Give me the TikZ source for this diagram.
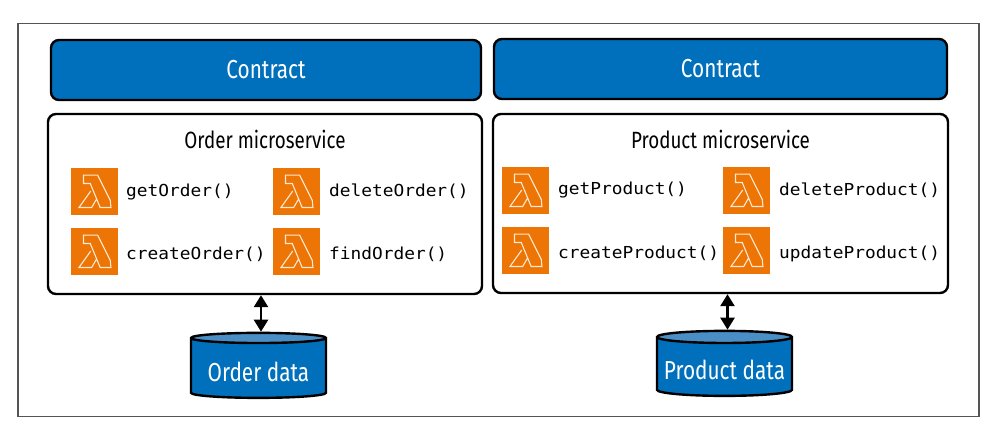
\documentclass[tikz,border=0pt]{standalone}
\usepackage{fontspec}
\usepackage{tikz}
\usetikzlibrary{arrows.meta,positioning,shapes.geometric}
\setsansfont[FakeStretch=0.8]{Fira Sans}
\setmonofont[FakeStretch=1.08]{DejaVu Sans Mono}
\definecolor{boxblue}{HTML}{0070BC}
\definecolor{lidblue}{HTML}{4A8EC6}
\definecolor{iconorange}{HTML}{EC7505}
\definecolor{iconline}{HTML}{FFE9D2}
\definecolor{framegray}{HTML}{555555}
\tikzset{
  contract/.style={draw=black,line width=2.4pt,fill=boxblue,rounded corners=8pt,text=white,
    font=\sffamily\fontsize{26}{28}\selectfont},
  service/.style={draw=black,line width=2.4pt,rounded corners=8pt},
  title/.style={font=\sffamily\fontsize{23.5}{26}\selectfont,inner sep=0pt},
  datastore/.style={cylinder,draw=black,line width=2.4pt,shape border rotate=90,aspect=0.1,
    cylinder uses custom fill,cylinder body fill=boxblue,cylinder end fill=lidblue,
    minimum width=135pt,minimum height=65pt,inner sep=0pt,text=white,
    text height=28pt,text depth=3pt,font=\sffamily\fontsize{26}{28}\selectfont},
  lambda/.style={fill=iconorange,minimum size=47pt,inner sep=0pt,outer sep=0pt,
    path picture={\draw[shift={(path picture bounding box.center)},x=47pt,y=-47pt,
      draw=iconline,line width=1.1pt,line join=miter]
      (-.235,-.35) -- (.065,-.35) -- (.335,.19) -- (.35,.34) -- (.12,.34)
      -- (-.09,-.17) -- (-.235,-.17) -- cycle
      (-.08,-.01) -- (-.33,.34) -- (-.06,.34) -- (.05,.15);}},
  func/.style={font=\ttfamily\fontsize{16.5}{18}\selectfont,inner sep=0pt,
    text height=13pt,text depth=3pt},
  link/.style={<->,>={Triangle[length=12pt,width=14pt]},line width=2.5pt}
}
\begin{document}
\begin{tikzpicture}[x=1pt,y=-1pt]
  \useasboundingbox (0,0) rectangle (996,432);
  \node[draw=framegray,line width=1.2pt,minimum width=961pt,minimum height=393pt] (frame) at (498.5,220) {};

  \node[contract,minimum width=430pt,minimum height=60pt] (contractO) at (266,70) {Contract};
  \node[contract,minimum width=453pt,minimum height=60pt] (contractP) at (720.5,69) {Contract};
  \node[service,minimum width=434pt,minimum height=180pt] (order) at (265,204) {};
  \node[service,minimum width=455pt,minimum height=179pt] (product) at (720.5,203.5) {};
  \node[title,below=17pt of order.north] (orderT) {Order microservice};
  \node[title,below=17pt of product.north] (productT) {Product microservice};

  \node[lambda] (getO) at (94.5,191.5) {};
  \node[lambda,right=155pt of getO] (deleteO) {};
  \node[lambda,below=13pt of getO] (createO) {};
  \node[lambda,right=155pt of createO] (findO) {};
  \node[func,right=8pt of getO] {getOrder()};
  \node[func,right=9pt of deleteO] {deleteOrder()};
  \node[func,right=8pt of createO,yshift=-3pt] {createOrder()};
  \node[func,right=9pt of findO,yshift=-3pt] {findOrder()};

  \node[lambda] (getP) at (525.5,190.5) {};
  \node[lambda,right=174pt of getP] (deleteP) {};
  \node[lambda,below=13pt of getP] (createP) {};
  \node[lambda,right=174pt of createP] (updateP) {};
  \node[func,right=9pt of getP,yshift=1pt] {getProduct()};
  \node[func,right=9pt of deleteP] {deleteProduct()};
  \node[func,right=9pt of createP,yshift=-3pt] {createProduct()};
  \node[func,right=9pt of updateP,yshift=-3pt] {updateProduct()};

  \node[datastore] (orderD) at (258.5,368.5) {Order data};
  \node[datastore] (productD) at (724.5,367) {Product data};

  \draw[link] ([xshift=2.5pt]orderD.north) -- ([xshift=2.5pt]orderD.north |- order.south);
  \draw[link] ([xshift=3pt]productD.north) -- ([xshift=3pt]productD.north |- product.south);
\end{tikzpicture}
\end{document}
